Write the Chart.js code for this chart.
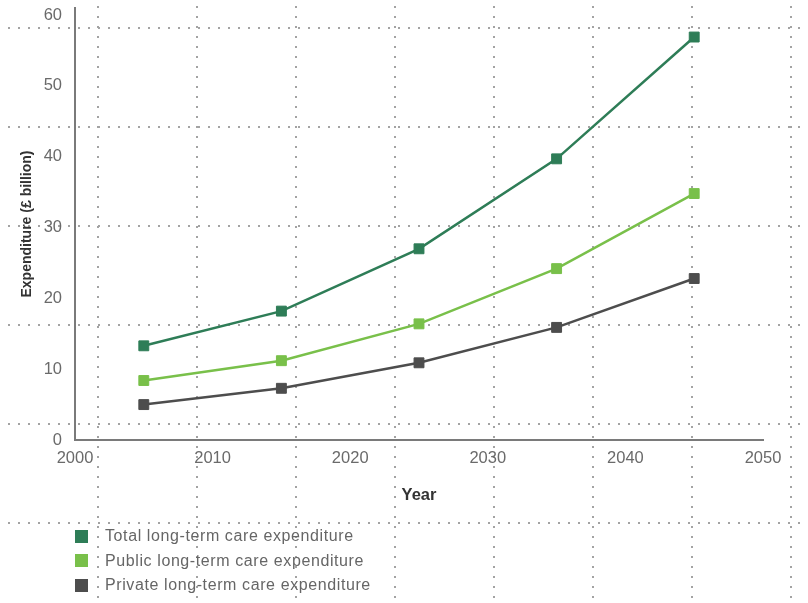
<!DOCTYPE html>
<html>
<head>
<meta charset="utf-8">
<script src="https://cdn.jsdelivr.net/npm/chart.js@4.4.1/dist/chart.umd.min.js"></script>
<style>
html, body { margin: 0; padding: 0; background: #fff; }
#wrap { position: relative; width: 808px; height: 603px; overflow: hidden; }
#legend { position: absolute; left: 75px; top: 524px; font-family: "Liberation Sans", Arial, sans-serif; font-size: 16px; letter-spacing: 0.6px; color: #666; }
.item { height: 24.5px; display: flex; align-items: center; }
.box { width: 13px; height: 13px; margin-right: 17px; }
</style>
</head>
<body>
<div id="wrap">
  <canvas id="care-chart" width="808" height="603"></canvas>
  <div id="legend"></div>
</div>
<script>
var years = [2005, 2015, 2025, 2035, 2045];
var totalCare = [13.3, 18.2, 27.0, 39.7, 56.9];
var publicCare = [8.4, 11.2, 16.4, 24.2, 34.8];
var privateCare = [5.0, 7.3, 10.9, 15.9, 22.8];
var seriesLabels = ['Total long-term care expenditure', 'Public long-term care expenditure', 'Private long-term care expenditure'];
var xTicks = [2000, 2010, 2020, 2030, 2040, 2050];
var yTicks = [0, 10, 20, 30, 40, 50, 60];

var fontFamily = '"Liberation Sans", Arial, sans-serif';

function toPoints(values) {
  return values.map(function (v, i) {
    return { x: years[i], y: v };
  });
}

function makeSet(label, values, color) {
  return {
    label: label,
    data: toPoints(values),
    borderColor: color,
    backgroundColor: color,
    borderWidth: 2.5,
    pointStyle: 'rect',
    pointRadius: 7,
    pointBorderWidth: 1,
    pointHoverRadius: 7,
    tension: 0,
    fill: false
  };
}

// dotted background grid of the printed page (independent of the data scales)
var dottedPaper = {
  id: 'dottedPaper',
  beforeDraw: function (chart) {
    var ctx = chart.ctx;
    ctx.save();
    ctx.fillStyle = '#fff';
    ctx.fillRect(0, 0, chart.width, chart.height);
    ctx.fillStyle = '#a3a3a3';
    var cols = [98, 197, 296, 395, 494, 593, 692, 791];
    var rows = [28, 127, 226, 325, 424, 523];
    cols.forEach(function (x) {
      for (var y = 7; y < chart.height; y += 10) ctx.fillRect(x - 1, y - 1, 2, 2);
    });
    rows.forEach(function (y) {
      for (var x = 9; x < chart.width; x += 10) ctx.fillRect(x - 1, y - 1, 2, 2);
    });
    ctx.restore();
  }
};

var chart = new Chart(document.getElementById('care-chart'), {
  type: 'line',
  data: {
    datasets: [
      makeSet(seriesLabels[0], totalCare, '#2e7d57'),
      makeSet(seriesLabels[1], publicCare, '#79c04a'),
      makeSet(seriesLabels[2], privateCare, '#4d4d4d')
    ]
  },
  plugins: [dottedPaper],
  options: {
    responsive: false,
    animation: false,
    layout: { padding: { top: 7, right: 45, left: 0, bottom: 0 } },
    plugins: {
      legend: { display: false },
      tooltip: { enabled: false }
    },
    scales: {
      x: {
        type: 'linear',
        min: 2000,
        max: 2050,
        afterBuildTicks: function (scale) {
          scale.ticks = xTicks.map(function (v) { return { value: v }; });
        },
        afterFit: function (scale) {
          scale.height = 163;
          scale.paddingTop = 0;
          scale.paddingBottom = 0;
        },
        grid: { display: false, drawTicks: false },
        border: { display: true, color: '#7a7a7a', width: 2 },
        ticks: {
          padding: 9,
          autoSkip: false,
          maxRotation: 0,
          color: '#6a6a6a',
          font: { family: fontFamily, size: 16.5 },
          callback: function (v) { return String(v); }
        },
        title: {
          display: true,
          text: 'Year',
          color: '#333',
          font: { family: fontFamily, size: 16.5, weight: 'bold' },
          padding: { top: 4, bottom: 98 }
        }
      },
      y: {
        min: 0,
        max: 61,
        afterBuildTicks: function (scale) {
          scale.ticks = yTicks.map(function (v) { return { value: v }; });
        },
        afterFit: function (scale) {
          scale.width = 75;
          scale.paddingTop = 0;
          scale.paddingBottom = 0;
        },
        grid: { display: false, drawTicks: false },
        border: { display: true, color: '#7a7a7a', width: 2 },
        ticks: {
          padding: 13,
          color: '#6a6a6a',
          font: { family: fontFamily, size: 16.5 },
          callback: function (v) { return String(v); }
        },
        title: {
          display: true,
          text: 'Expenditure (£ billion)',
          color: '#333',
          font: { family: fontFamily, size: 14, weight: 'bold' },
          padding: { top: 19, bottom: 4 }
        }
      }
    }
  }
});

// html legend in a single column, like the print
var legendBox = document.getElementById('legend');
chart.data.datasets.forEach(function (ds) {
  var row = document.createElement('div');
  row.className = 'item';
  var sq = document.createElement('span');
  sq.className = 'box';
  sq.style.background = ds.borderColor;
  var txt = document.createElement('span');
  txt.textContent = ds.label;
  row.appendChild(sq);
  row.appendChild(txt);
  legendBox.appendChild(row);
});
</script>
</body>
</html>
